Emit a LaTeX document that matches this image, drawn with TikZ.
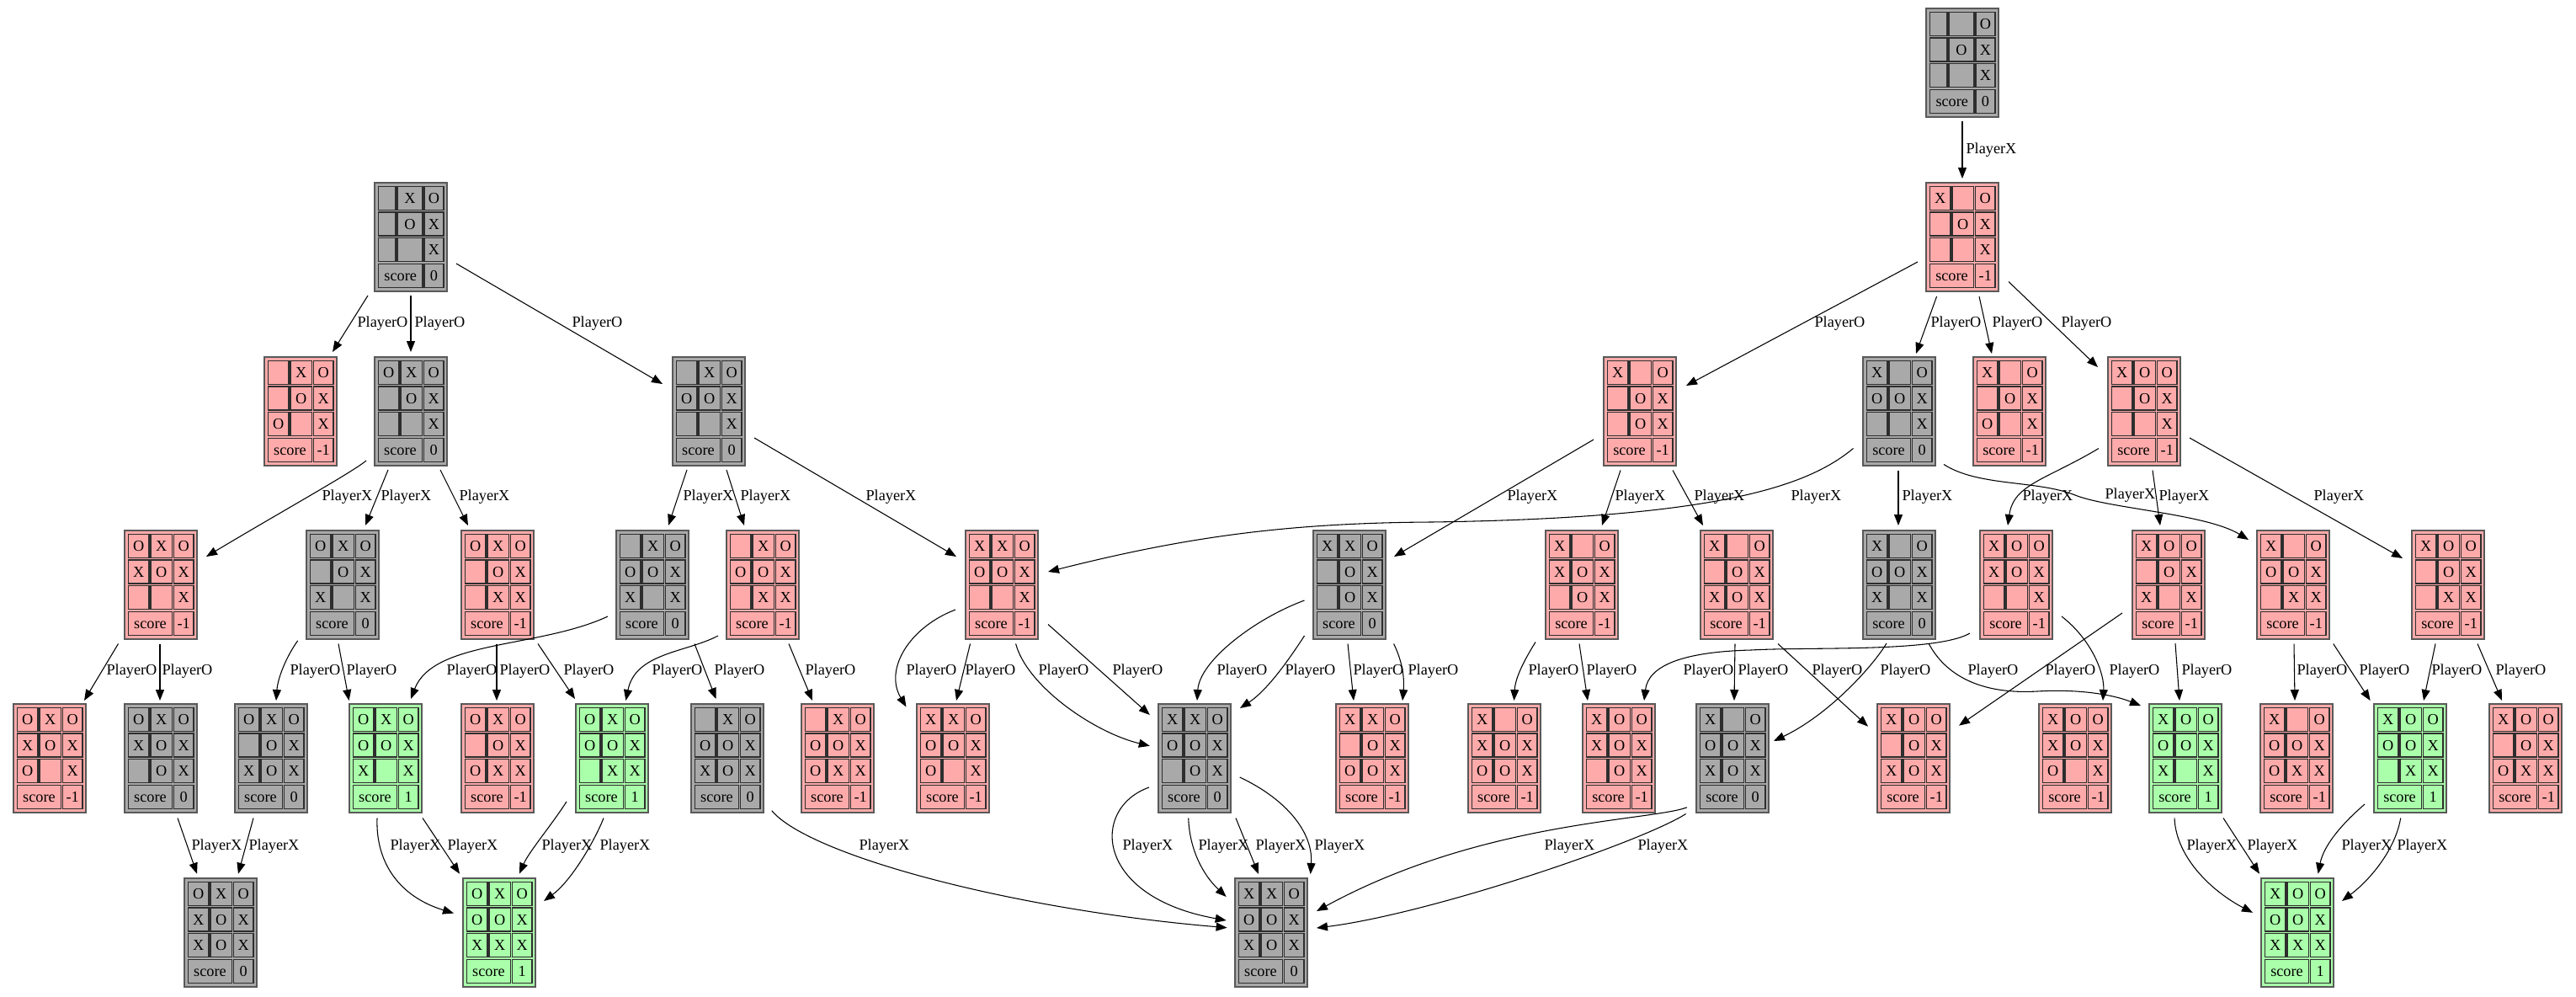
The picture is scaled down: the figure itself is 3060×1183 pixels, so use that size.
\documentclass[tikz,border=0pt]{standalone}
\usepackage{fontspec}
\setmainfont{Liberation Serif}
\usetikzlibrary{arrows.meta}

\definecolor{boardgray}{HTML}{A9A9A9}
\definecolor{boardred}{HTML}{FFAAAA}
\definecolor{boardgreen}{HTML}{AAFFAA}
\newcommand\gvfont{\fontsize{13.7pt}{16pt}\selectfont}

\tikzset{
  boardstd/.code={\def\cA{4.5}\def\wA{24.5}\def\cB{31}\def\wB{25.5}\def\cC{58.5}\def\wC{23.5}\def\wS{52}},
  boardnarrow/.code={\def\cA{4.5}\def\wA{20.5}\def\cB{27}\def\wB{30}\def\cC{59}\def\wC{23}\def\wS{52.5}},
  boardframe/.style={draw=black!65, line width=1pt, minimum width=64.5pt, minimum height=96.75pt,
    inner sep=0pt, outer sep=0pt},
  cellbox/.style={draw=black!82, line width=1pt, inner sep=0pt, outer sep=0pt, font=\gvfont,
    text height=9.1pt, text depth=0pt},
  edge/.style={draw=black, line width=0.8pt, -{Triangle[length=9.75pt,width=7.5pt]}},
  lbl/.style={font=\gvfont, inner sep=0pt, anchor=west, xshift=1.5pt},
}

% one cell: name, left, top, width, text (height 28 units)
\newcommand\bcell[5]{%
  \node[cellbox, minimum width={(#4)*0.75pt}, minimum height=21pt] (#1) at ({#2+(#4)/2},{#3+14}) {#5};}
% one row of marks: board, row tag, top offset, three marks
\newcommand\boardrow[6]{%
  \bcell{#1-#2a}{\bx+\cA}{\by+#3}{\wA}{#4}%
  \bcell{#1-#2b}{\bx+\cB}{\by+#3}{\wB}{#5}%
  \bcell{#1-#2c}{\bx+\cC}{\by+#3}{\wC}{#6}}
% a board: [layout] name, centre x, centre y, fill, row 1, row 2, row 3, score
\newcommand\board[9][boardstd]{%
  \tikzset{#1}%
  \node[boardframe, fill=#5] (#2) at (#3,#4) {};
  \def\bx{#3-43}\def\by{#4-64.5}%
  \boardrow{#2}{1}{4.5}#6
  \boardrow{#2}{2}{35}#7
  \boardrow{#2}{3}{65.5}#8
  \bcell{#2-s}{\bx+\cA}{\by+96.5}{\wS}{score}%
  \bcell{#2-v}{\bx+\cC}{\by+96.5}{\wC}{#9}%
}

\begin{document}
\begin{tikzpicture}[x=0.75pt,y=-0.75pt]
\fill[white] (0,0) rectangle (3060,1183);
\useasboundingbox (0,0) rectangle (3060,1183);

% ---- boards ----
\board[boardnarrow]{root}{2331}{74.5}{boardgray}{{}{}{O}}{{}{O}{X}}{{}{}{X}}{0}
\board{r1}{2331}{281.5}{boardred}{{X}{}{O}}{{}{O}{X}}{{}{}{X}}{-1}
\board[boardnarrow]{g1}{488}{281.5}{boardgray}{{}{X}{O}}{{}{O}{X}}{{}{}{X}}{0}

\board{c1}{357}{488.5}{boardred}{{}{X}{O}}{{}{O}{X}}{{O}{}{X}}{-1}
\board{c2}{488}{488.5}{boardgray}{{O}{X}{O}}{{}{O}{X}}{{}{}{X}}{0}
\board{c3}{842}{488.5}{boardgray}{{}{X}{O}}{{O}{O}{X}}{{}{}{X}}{0}
\board{d1}{1948}{488.5}{boardred}{{X}{}{O}}{{}{O}{X}}{{}{O}{X}}{-1}
\board{d2}{2256}{488.5}{boardgray}{{X}{}{O}}{{O}{O}{X}}{{}{}{X}}{0}
\board{d3}{2387}{488.5}{boardred}{{X}{}{O}}{{}{O}{X}}{{O}{}{X}}{-1}
\board{d4}{2547}{488.5}{boardred}{{X}{O}{O}}{{}{O}{X}}{{}{}{X}}{-1}

\board{e1}{191}{694.5}{boardred}{{O}{X}{O}}{{X}{O}{X}}{{}{}{X}}{-1}
\board{e2}{407}{694.5}{boardgray}{{O}{X}{O}}{{}{O}{X}}{{X}{}{X}}{0}
\board{e3}{591}{694.5}{boardred}{{O}{X}{O}}{{}{O}{X}}{{}{X}{X}}{-1}
\board{e4}{775}{694.5}{boardgray}{{}{X}{O}}{{O}{O}{X}}{{X}{}{X}}{0}
\board{e5}{906}{694.5}{boardred}{{}{X}{O}}{{O}{O}{X}}{{}{X}{X}}{-1}
\board{e6}{1190}{694.5}{boardred}{{X}{X}{O}}{{O}{O}{X}}{{}{}{X}}{-1}
\board{e7}{1603}{694.5}{boardgray}{{X}{X}{O}}{{}{O}{X}}{{}{O}{X}}{0}
\board{e8}{1879}{694.5}{boardred}{{X}{}{O}}{{X}{O}{X}}{{}{O}{X}}{-1}
\board{e9}{2063}{694.5}{boardred}{{X}{}{O}}{{}{O}{X}}{{X}{O}{X}}{-1}
\board{e10}{2256}{694.5}{boardgray}{{X}{}{O}}{{O}{O}{X}}{{X}{}{X}}{0}
\board{e11}{2395}{694.5}{boardred}{{X}{O}{O}}{{X}{O}{X}}{{}{}{X}}{-1}
\board{e12}{2576}{694.5}{boardred}{{X}{O}{O}}{{}{O}{X}}{{X}{}{X}}{-1}
\board{e13}{2724}{694.5}{boardred}{{X}{}{O}}{{O}{O}{X}}{{}{X}{X}}{-1}
\board{e14}{2908}{694.5}{boardred}{{X}{O}{O}}{{}{O}{X}}{{}{X}{X}}{-1}

\board{f1}{59}{900.5}{boardred}{{O}{X}{O}}{{X}{O}{X}}{{O}{}{X}}{-1}
\board{f2}{191}{900.5}{boardgray}{{O}{X}{O}}{{X}{O}{X}}{{}{O}{X}}{0}
\board{f3}{322}{900.5}{boardgray}{{O}{X}{O}}{{}{O}{X}}{{X}{O}{X}}{0}
\board{f4}{458}{900.5}{boardgreen}{{O}{X}{O}}{{O}{O}{X}}{{X}{}{X}}{1}
\board{f5}{591}{900.5}{boardred}{{O}{X}{O}}{{}{O}{X}}{{O}{X}{X}}{-1}
\board{f6}{727}{900.5}{boardgreen}{{O}{X}{O}}{{O}{O}{X}}{{}{X}{X}}{1}
\board{f7}{864}{900.5}{boardgray}{{}{X}{O}}{{O}{O}{X}}{{X}{O}{X}}{0}
\board{f8}{995}{900.5}{boardred}{{}{X}{O}}{{O}{O}{X}}{{O}{X}{X}}{-1}
\board{f9}{1132}{900.5}{boardred}{{X}{X}{O}}{{O}{O}{X}}{{O}{}{X}}{-1}
\board{f10}{1419}{900.5}{boardgray}{{X}{X}{O}}{{O}{O}{X}}{{}{O}{X}}{0}
\board{f11}{1630}{900.5}{boardred}{{X}{X}{O}}{{}{O}{X}}{{O}{O}{X}}{-1}
\board{f12}{1787}{900.5}{boardred}{{X}{}{O}}{{X}{O}{X}}{{O}{O}{X}}{-1}
\board{f13}{1923}{900.5}{boardred}{{X}{O}{O}}{{X}{O}{X}}{{}{O}{X}}{-1}
\board{f14}{2058}{900.5}{boardgray}{{X}{}{O}}{{O}{O}{X}}{{X}{O}{X}}{0}
\board{f15}{2273}{900.5}{boardred}{{X}{O}{O}}{{}{O}{X}}{{X}{O}{X}}{-1}
\board{f16}{2465}{900.5}{boardred}{{X}{O}{O}}{{X}{O}{X}}{{O}{}{X}}{-1}
\board{f17}{2596}{900.5}{boardgreen}{{X}{O}{O}}{{O}{O}{X}}{{X}{}{X}}{1}
\board{f18}{2728}{900.5}{boardred}{{X}{}{O}}{{O}{O}{X}}{{O}{X}{X}}{-1}
\board{f19}{2863}{900.5}{boardgreen}{{X}{O}{O}}{{O}{O}{X}}{{}{X}{X}}{1}
\board{f20}{3000}{900.5}{boardred}{{X}{O}{O}}{{}{O}{X}}{{O}{X}{X}}{-1}

\board{ga}{262}{1107.5}{boardgray}{{O}{X}{O}}{{X}{O}{X}}{{X}{O}{X}}{0}
\board{gb}{593}{1107.5}{boardgreen}{{O}{X}{O}}{{O}{O}{X}}{{X}{X}{X}}{1}
\board{gc}{1510}{1107.5}{boardgray}{{X}{X}{O}}{{O}{O}{X}}{{X}{O}{X}}{0}
\board{gd}{2729}{1107.5}{boardgreen}{{X}{O}{O}}{{O}{O}{X}}{{X}{X}{X}}{1}

% ---- moves: first level ----
\draw[edge] ([shift={(0,69.5)}]root.center) -- ([shift={(0,-69.5)}]r1.center) node[lbl] (l1) at (2333,178) {PlayerX};

% ---- second level ----
\draw[edge] ([shift={(-51,69.5)}]g1.center) -- ([shift={(38,-70.5)}]c1.center) node[lbl] (l2) at (422,384) {PlayerO};
\draw[edge] ([shift={(0,69.5)}]g1.center) -- ([shift={(0,-70.5)}]c2.center) node[lbl] (l3) at (490,384) {PlayerO};
\draw[edge] ([shift={(54,31.5)}]g1.center) -- ([shift={(-55,-32.5)}]c3.center) node[lbl] (l4) at (677,384) {PlayerO};
\draw[edge] ([shift={(-53,29.5)}]r1.center) -- ([shift={(55,-30.5)}]d1.center) node[lbl] (l5) at (2153,384) {PlayerO};
\draw[edge] ([shift={(-30.4,70.5)}]r1.center) -- ([shift={(20,-68.5)}]d2.center) node[lbl] (l6) at (2291,384) {PlayerO};
\draw[edge] ([shift={(20,70.5)}]r1.center) -- ([shift={(-21,-68.5)}]d3.center) node[lbl] (l7) at (2364,384) {PlayerO};
\draw[edge] ([shift={(55,53)}]r1.center) -- ([shift={(-55,-52.5)}]d4.center) node[lbl] (l8) at (2446,384) {PlayerO};

% ---- third level ----
\draw[edge] ([shift={(-53,58.5)}]c2.center) .. controls (420,560) and (330,610) .. ([shift={(54,-33.5)}]e1.center) node[lbl] (l9) at (380,590) {PlayerX};
\draw[edge] ([shift={(-27,69.5)}]c2.center) -- ([shift={(27,-70.5)}]e2.center) node[lbl] (l10) at (450,590) {PlayerX};
\draw[edge] ([shift={(35,69.5)}]c2.center) -- ([shift={(-35,-70.5)}]e3.center) node[lbl] (l11) at (543,590) {PlayerX};
\draw[edge] ([shift={(-26,69.5)}]c3.center) -- ([shift={(19,-70.5)}]e4.center) node[lbl] (l12) at (809,590) {PlayerX};
\draw[edge] ([shift={(21,69.5)}]c3.center) -- ([shift={(-22,-70.5)}]e5.center) node[lbl] (l13) at (877,590) {PlayerX};
\draw[edge] ([shift={(54,31.5)}]c3.center) -- ([shift={(-54,-33.5)}]e6.center) node[lbl] (l14) at (1026,590) {PlayerX};
\draw[edge] ([shift={(-55,33.5)}]d1.center) -- ([shift={(53,-33.5)}]e7.center) node[lbl] (l15) at (1788,590) {PlayerX};
\draw[edge] ([shift={(-23,70)}]d1.center) -- ([shift={(24,-70.5)}]e8.center) node[lbl] (l16) at (1916,590) {PlayerX};
\draw[edge] ([shift={(39,70)}]d1.center) -- ([shift={(-40,-70.5)}]e9.center) node[lbl] (l17) at (2010,590) {PlayerX};
\draw[edge] ([shift={(-54.5,44)}]d2.center) .. controls (2150,575) and (2050,615) .. (1700,620)
  .. controls (1520,621) and (1400,640) .. ([shift={(55,-15.5)}]e6.center) node[lbl] (l18) at (2125,590) {PlayerX};
\draw[edge] ([shift={(-1,70)}]d2.center) -- ([shift={(-1,-70.5)}]e10.center) node[lbl] (l19) at (2257,590) {PlayerX};
\draw[edge] ([shift={(-54,44)}]d4.center) .. controls (2430,570) and (2392,575) .. ([shift={(-10,-70.5)}]e11.center) node[lbl] (l20) at (2400,590) {PlayerX};
\draw[edge] ([shift={(53,63)}]d2.center) .. controls (2350,578) and (2420,570) .. (2465,588)
  .. controls (2505,604) and (2620,610) .. ([shift={(-53,-53.5)}]e13.center) node[lbl] (l21) at (2498,588) {PlayerX};
\draw[edge] ([shift={(10,70)}]d4.center) -- ([shift={(-10,-70.5)}]e12.center) node[lbl] (l22) at (2562,590) {PlayerX};
\draw[edge] ([shift={(54,31.5)}]d4.center) -- ([shift={(-54,-31.5)}]e14.center) node[lbl] (l23) at (2746,590) {PlayerX};

% ---- fourth level ----
\draw[edge] ([shift={(-50.5,70)}]e1.center) -- ([shift={(41,-68.5)}]f1.center) node[lbl] (l24) at (124,797) {PlayerO};
\draw[edge] ([shift={(-1,70)}]e1.center) -- ([shift={(-1,-68.5)}]f2.center) node[lbl] (l25) at (190,797) {PlayerO};
\draw[edge] ([shift={(-53.3,66.3)}]e2.center) .. controls (340,780) and (330,805) .. ([shift={(6,-68.5)}]f3.center) node[lbl] (l26) at (342,797) {PlayerO};
\draw[edge] ([shift={(-5,70)}]e2.center) -- ([shift={(-43.4,-68.5)}]f4.center) node[lbl] (l27) at (409,797) {PlayerO};
\draw[edge] ([shift={(-53,37.5)}]e4.center) .. controls (640,770) and (515,760) .. ([shift={(30,-70.5)}]f4.center) node[lbl] (l28) at (528,797) {PlayerO};
\draw[edge] ([shift={(-1,70)}]e3.center) -- ([shift={(-1,-68.5)}]f5.center) node[lbl] (l29) at (591,797) {PlayerO};
\draw[edge] ([shift={(48,70)}]e3.center) -- ([shift={(-44,-70.5)}]f6.center) node[lbl] (l30) at (667,797) {PlayerO};
\draw[edge] ([shift={(-53,60.5)}]e5.center) .. controls (815,775) and (755,775) .. ([shift={(16.4,-68.5)}]f6.center) node[lbl] (l31) at (772,797) {PlayerO};
\draw[edge] ([shift={(50,70)}]e4.center) -- ([shift={(-13.5,-70.5)}]f7.center) node[lbl] (l32) at (846,797) {PlayerO};
\draw[edge] ([shift={(31,70)}]e5.center) -- ([shift={(-30,-68.5)}]f8.center) node[lbl] (l33) at (954,797) {PlayerO};
\draw[edge] ([shift={(-55,29.5)}]e6.center) .. controls (1080,745) and (1050,795) .. ([shift={(-55.5,-61)}]f9.center) node[lbl] (l34) at (1074,797) {PlayerO};
\draw[edge] ([shift={(-37.5,70)}]e6.center) -- ([shift={(4,-68.5)}]f9.center) node[lbl] (l35) at (1144,797) {PlayerO};
\draw[edge] ([shift={(16.6,70)}]e6.center) .. controls (1220,815) and (1300,870) .. ([shift={(-53.2,-14.7)}]f10.center) node[lbl] (l36) at (1231,797) {PlayerO};
\draw[edge] ([shift={(55,47)}]e6.center) -- ([shift={(-53.2,-51.5)}]f10.center) node[lbl] (l37) at (1319,797) {PlayerO};
\draw[edge] ([shift={(-53.5,18.5)}]e7.center) .. controls (1490,735) and (1425,785) .. ([shift={(3,-68.5)}]f10.center) node[lbl] (l38) at (1443,797) {PlayerO};
\draw[edge] ([shift={(-53.5,60.5)}]e7.center) .. controls (1530,785) and (1505,820) .. ([shift={(54,-59.5)}]f10.center) node[lbl] (l39) at (1524,797) {PlayerO};
\draw[edge] ([shift={(-2,70)}]e7.center) -- ([shift={(-22,-68.5)}]f11.center) node[lbl] (l40) at (1605,797) {PlayerO};
\draw[edge] ([shift={(52.6,70)}]e7.center) .. controls (1668,790) and (1668,810) .. ([shift={(36,-68.5)}]f11.center) node[lbl] (l41) at (1670,797) {PlayerO};
\draw[edge] ([shift={(-55,68)}]e8.center) .. controls (1810,785) and (1800,805) .. ([shift={(11.5,-68.5)}]f12.center) node[lbl] (l42) at (1813,797) {PlayerO};
\draw[edge] ([shift={(-3,70)}]e8.center) -- ([shift={(-37,-68.5)}]f13.center) node[lbl] (l43) at (1882,797) {PlayerO};
\draw[edge] ([shift={(-55,57.5)}]e11.center) .. controls (2300,775) and (2150,768) .. (2080,772)
  .. controls (2000,774) and (1958,790) .. ([shift={(30,-68.5)}]f13.center) node[lbl] (l44) at (1997,797) {PlayerO};
\draw[edge] ([shift={(-2,70)}]e9.center) -- ([shift={(2,-68.5)}]f14.center) node[lbl] (l45) at (2062,797) {PlayerO};
\draw[edge] ([shift={(49,70)}]e9.center) -- ([shift={(-54,-37.8)}]f15.center) node[lbl] (l46) at (2150,797) {PlayerO};
\draw[edge] ([shift={(-15,69.5)}]e10.center) .. controls (2222,795) and (2170,850) .. ([shift={(49,-20.5)}]f14.center) node[lbl] (l47) at (2231,797) {PlayerO};
\draw[edge] ([shift={(35,69.5)}]e10.center) .. controls (2310,800) and (2350,825) .. (2420,821)
  .. controls (2470,818) and (2510,825) .. ([shift={(-53,-62.5)}]f17.center) node[lbl] (l48) at (2335,797) {PlayerO};
\draw[edge] ([shift={(-55,33.5)}]e12.center) -- ([shift={(54,-38.8)}]f15.center) node[lbl] (l49) at (2427,797) {PlayerO};
\draw[edge] ([shift={(54,37.5)}]e11.center) .. controls (2485,760) and (2500,800) .. ([shift={(33,-68.5)}]f16.center) node[lbl] (l50) at (2503,797) {PlayerO};
\draw[edge] ([shift={(8,69.5)}]e12.center) -- ([shift={(-7,-68.5)}]f17.center) node[lbl] (l51) at (2589,797) {PlayerO};
\draw[edge] ([shift={(1,70)}]e13.center) -- ([shift={(-2,-68.5)}]f18.center) node[lbl] (l52) at (2726,797) {PlayerO};
\draw[edge] ([shift={(47.7,70)}]e13.center) -- ([shift={(-47.4,-68.5)}]f19.center) node[lbl] (l53) at (2800,797) {PlayerO};
\draw[edge] ([shift={(-15,70)}]e14.center) -- ([shift={(16,-68.5)}]f19.center) node[lbl] (l54) at (2886,797) {PlayerO};
\draw[edge] ([shift={(35,70)}]e14.center) -- ([shift={(-28,-68.5)}]f20.center) node[lbl] (l55) at (2962,797) {PlayerO};

% ---- fifth level ----
\draw[edge] ([shift={(20,71)}]f2.center) -- ([shift={(-28,-69.8)}]ga.center) node[lbl] (l56) at (225,1005) {PlayerX};
\draw[edge] ([shift={(-21,71)}]f3.center) -- ([shift={(21,-69.8)}]ga.center) node[lbl] (l57) at (293,1005) {PlayerX};
\draw[edge] ([shift={(-10,71)}]f4.center) .. controls (446,1025) and (475,1065) .. ([shift={(-54,-23)}]gb.center) node[lbl] (l58) at (461,1005) {PlayerX};
\draw[edge] ([shift={(44,71)}]f4.center) -- ([shift={(-47,-69.8)}]gb.center) node[lbl] (l59) at (529,1005) {PlayerX};
\draw[edge] ([shift={(-54,51.5)}]f6.center) .. controls (655,980) and (628,1012) .. ([shift={(24,-69.8)}]gb.center) node[lbl] (l60) at (641,1005) {PlayerX};
\draw[edge] ([shift={(-10,71)}]f6.center) .. controls (708,995) and (680,1045) .. ([shift={(53,-37.5)}]gb.center) node[lbl] (l61) at (710,1005) {PlayerX};
\draw[edge] ([shift={(52.8,62.2)}]f7.center) .. controls (960,1015) and (1200,1080) .. ([shift={(-52.4,-5.8)}]gc.center) node[lbl] (l62) at (1018,1005) {PlayerX};
\draw[edge] ([shift={(-54,34.5)}]f10.center) .. controls (1295,960) and (1300,1065) .. ([shift={(-53.3,-14.5)}]gc.center) node[lbl] (l63) at (1331,1005) {PlayerX};
\draw[edge] ([shift={(-7.3,71)}]f10.center) .. controls (1413,1010) and (1430,1040) .. ([shift={(-53.3,-42.5)}]gc.center) node[lbl] (l64) at (1421,1005) {PlayerX};
\draw[edge] ([shift={(49,71)}]f10.center) -- ([shift={(-15,-69.5)}]gc.center) node[lbl] (l65) at (1489,1005) {PlayerX};
\draw[edge] ([shift={(53.7,22.5)}]f10.center) .. controls (1530,950) and (1560,990) .. ([shift={(46.7,-69.5)}]gc.center) node[lbl] (l66) at (1559,1005) {PlayerX};
\draw[edge] ([shift={(-54,58.3)}]f14.center) .. controls (1960,975) and (1760,975) .. ([shift={(54,-25.5)}]gc.center) node[lbl] (l67) at (1832,1005) {PlayerX};
\draw[edge] ([shift={(-55.4,66)}]f14.center) .. controls (1950,1000) and (1700,1085) .. ([shift={(54,-5.5)}]gc.center) node[lbl] (l68) at (1943,1005) {PlayerX};
\draw[edge] ([shift={(-13,71)}]f17.center) .. controls (2585,1020) and (2630,1060) .. ([shift={(-53,-23.7)}]gd.center) node[lbl] (l69) at (2595,1005) {PlayerX};
\draw[edge] ([shift={(45,71)}]f17.center) -- ([shift={(-45,-69.8)}]gd.center) node[lbl] (l70) at (2667,1005) {PlayerX};
\draw[edge] ([shift={(-54,54.5)}]f19.center) .. controls (2780,980) and (2760,1005) .. ([shift={(24.6,-69.8)}]gd.center) node[lbl] (l71) at (2779,1005) {PlayerX};
\draw[edge] ([shift={(-11.3,71)}]f19.center) .. controls (2845,1010) and (2815,1045) .. ([shift={(53,-37.5)}]gd.center) node[lbl] (l72) at (2845,1005) {PlayerX};

\end{tikzpicture}
\end{document}
